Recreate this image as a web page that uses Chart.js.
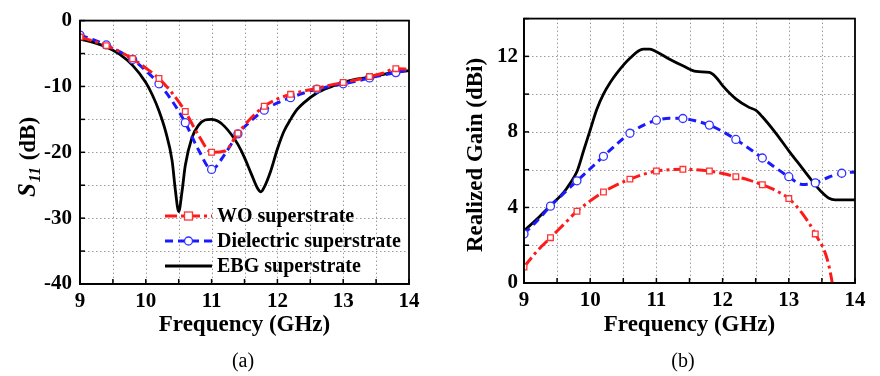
<!DOCTYPE html>
<html>
<head>
<meta charset="utf-8">
<script src="https://cdn.jsdelivr.net/npm/chart.js@4.4.1/dist/chart.umd.min.js"></script>
<style>
  body { margin: 0; background: #fff; }
  #wrap { position: relative; width: 880px; height: 376px; display: flex; }
  canvas { display: block; }
</style>
</head>
<body>
<div id="wrap">
  <canvas id="graficoS11" width="440" height="376"></canvas>
  <canvas id="graficoGanho" width="440" height="376"></canvas>
</div>
<script>
// frequencias (GHz) das curvas com marcadores
const freq = [9.0, 9.2, 9.4, 9.6, 9.8, 10.0, 10.2, 10.4, 10.6, 10.8, 11.0, 11.2, 11.4,
  11.6, 11.8, 12.0, 12.2, 12.4, 12.6, 12.8, 13.0, 13.2, 13.4, 13.6, 13.8, 14.0];

// (a) S11 em dB
const s11Wo = [-2.5, -3.1, -3.8, -4.7, -5.8, -7.2, -8.8, -11.0, -13.8, -17.4, -20.0, -19.8, -17.1,
  -14.8, -13.0, -11.9, -11.2, -10.7, -10.3, -9.8, -9.4, -9.0, -8.5, -8.0, -7.3, -7.4];
const s11Diel = [-2.2, -2.9, -3.7, -4.7, -5.9, -7.6, -9.6, -12.2, -15.5, -19.6, -22.6, -20.3, -17.2,
  -15.2, -13.6, -12.5, -11.7, -11.0, -10.4, -10.0, -9.6, -9.2, -8.7, -8.3, -7.9, -7.5];
const freqEbgS11 = [9.0, 9.2, 9.4, 9.6, 9.8, 10.0, 10.1, 10.2, 10.3, 10.4, 10.45, 10.5, 10.55, 10.6,
  10.7, 10.8, 10.9, 11.0, 11.1, 11.2, 11.3, 11.4, 11.5, 11.6, 11.7, 11.75, 11.8, 11.9, 12.0, 12.1,
  12.2, 12.3, 12.4, 12.6, 12.8, 13.0, 13.2, 13.4, 13.6, 13.8, 14.0];
const s11Ebg = [-2.8, -3.3, -4.0, -5.1, -6.8, -9.4, -11.3, -13.7, -16.8, -21.3, -25.8, -29.0, -26.0, -22.0,
  -17.8, -15.9, -15.1, -15.0, -15.3, -16.1, -17.3, -18.8, -20.8, -23.2, -25.5, -26.0, -25.3, -22.8, -19.5, -16.8,
  -15.0, -13.5, -12.5, -11.0, -10.1, -9.4, -8.9, -8.6, -8.2, -7.8, -7.6];

// (b) ganho realizado em dBi
const gainWo = [0.85, 1.7, 2.4, 3.1, 3.8, 4.35, 4.82, 5.2, 5.5, 5.75, 5.93, 6.0, 6.02,
  6.0, 5.93, 5.8, 5.63, 5.45, 5.2, 4.9, 4.47, 3.7, 2.6, 1.0, -3.2, null];
const gainDiel = [2.6, 3.3, 4.07, 4.75, 5.41, 6.05, 6.71, 7.35, 7.93, 8.35, 8.62, 8.72, 8.71,
  8.58, 8.36, 8.02, 7.6, 7.12, 6.62, 6.1, 5.63, 5.22, 5.3, 5.6, 5.81, 5.88];
const freqEbgGain = [9.0, 9.2, 9.4, 9.6, 9.7, 9.8, 9.9, 10.0, 10.1, 10.2, 10.3, 10.4, 10.6, 10.8, 10.9,
  11.0, 11.2, 11.4, 11.6, 11.8, 11.9, 12.0, 12.2, 12.4, 12.5, 12.6, 12.8, 13.0, 13.2, 13.4, 13.5,
  13.6, 13.7, 13.8, 14.0];
const gainEbg = [2.76, 3.4, 4.1, 4.8, 5.3, 5.9, 7.0, 8.1, 9.2, 10.0, 10.6, 11.1, 11.9, 12.38, 12.38,
  12.25, 11.85, 11.5, 11.2, 11.15, 10.9, 10.45, 9.75, 9.3, 9.15, 8.8, 7.95, 7.0, 6.1, 5.2, 4.8,
  4.5, 4.4, 4.4, 4.4];

const nomes = ["WO superstrate", "Dielectric superstrate", "EBG superstrate"];

Chart.defaults.font.family = '"Liberation Serif", "Times New Roman", serif';
Chart.defaults.color = "#000";

const fonte = (size) => ({ size: size, weight: "bold" });

function pares(xs, ys) {
  return xs.map((x, i) => ({ x: x, y: ys[i] }));
}

function marcador(ctx) {
  return ctx.dataIndex % 2 === 0 ? 4 : 0;
}

function geraDatasets(xs, wo, diel, xsEbg, ebg) {
  return [
    {
      label: nomes[0],
      data: pares(xs, wo),
      borderColor: "#ff1a1a",
      borderWidth: 3,
      borderDash: [12, 4, 3, 4],
      pointStyle: "rect",
      pointRadius: marcador,
      pointBackgroundColor: "#fff",
      pointBorderColor: "#ff3333",
      pointBorderWidth: 1.3,
      cubicInterpolationMode: "monotone",
    },
    {
      label: nomes[1],
      data: pares(xs, diel),
      borderColor: "#1a1aff",
      borderWidth: 3,
      borderDash: [8, 5],
      pointStyle: "circle",
      pointRadius: marcador,
      pointBackgroundColor: "#fff",
      pointBorderColor: "#3333ff",
      pointBorderWidth: 1.3,
      cubicInterpolationMode: "monotone",
    },
    {
      label: nomes[2],
      data: pares(xsEbg, ebg),
      borderColor: "#000",
      borderWidth: 2.8,
      pointRadius: 0,
      pointStyle: false,
      cubicInterpolationMode: "monotone",
    },
  ];
}

// grade pontilhada, desenhada a partir dos ticks das escalas
const grade = {
  id: "grade",
  beforeDatasetsDraw(chart) {
    const { ctx, chartArea: a, scales } = chart;
    ctx.save();
    ctx.strokeStyle = "#9a9a9a";
    ctx.lineWidth = 1;
    ctx.setLineDash([1.5, 2.5]);
    scales.x.ticks.forEach((t) => {
      if (t.value === scales.x.min || t.value === scales.x.max) return;
      const px = Math.round(scales.x.getPixelForValue(t.value)) + 0.5;
      ctx.beginPath();
      ctx.moveTo(px, a.top);
      ctx.lineTo(px, a.bottom);
      ctx.stroke();
    });
    scales.y.ticks.forEach((t) => {
      if (t.value === scales.y.min || t.value === scales.y.max) return;
      const py = Math.round(scales.y.getPixelForValue(t.value)) + 0.5;
      ctx.beginPath();
      ctx.moveTo(a.left, py);
      ctx.lineTo(a.right, py);
      ctx.stroke();
    });
    ctx.restore();
  },
};

// moldura, ticks internos, legenda, titulo do eixo y e rotulo (a)/(b)
const extras = {
  id: "extras",
  afterDatasetsDraw(chart, args, opts) {
    const { ctx, chartArea: a, scales } = chart;
    ctx.save();
    ctx.strokeStyle = "#000";
    ctx.lineWidth = 1.5;
    scales.x.ticks.forEach((t) => {
      const px = scales.x.getPixelForValue(t.value);
      ctx.beginPath();
      ctx.moveTo(px, a.bottom);
      ctx.lineTo(px, a.bottom - 5);
      ctx.stroke();
    });
    scales.y.ticks.forEach((t) => {
      const py = scales.y.getPixelForValue(t.value);
      ctx.beginPath();
      ctx.moveTo(a.left, py);
      ctx.lineTo(a.left + 5, py);
      ctx.stroke();
    });
    ctx.lineWidth = 1.8;
    ctx.strokeRect(a.left, a.top, a.width, a.height);

    // legenda
    chart.data.datasets.forEach((ds, i) => {
      const y = opts.legY + i * 25;
      const x0 = opts.legX;
      const x1 = x0 + 47;
      ctx.save();
      ctx.strokeStyle = ds.borderColor;
      ctx.lineWidth = ds.borderWidth;
      ctx.setLineDash(ds.borderDash || []);
      ctx.beginPath();
      ctx.moveTo(x0, y);
      ctx.lineTo(x1, y);
      ctx.stroke();
      ctx.setLineDash([]);
      const cx = (x0 + x1) / 2;
      ctx.lineWidth = 1.3;
      ctx.fillStyle = "#fff";
      ctx.strokeStyle = ds.pointBorderColor;
      if (ds.pointStyle === "rect") {
        ctx.fillRect(cx - 4, y - 4, 8, 8);
        ctx.strokeRect(cx - 4, y - 4, 8, 8);
      } else if (ds.pointStyle === "circle") {
        ctx.beginPath();
        ctx.arc(cx, y, 4, 0, Math.PI * 2);
        ctx.fill();
        ctx.stroke();
      }
      ctx.restore();
      ctx.fillStyle = "#000";
      ctx.font = 'bold 20px "Liberation Serif", serif';
      ctx.textAlign = "left";
      ctx.textBaseline = "middle";
      ctx.fillText(ds.label, x1 + 5, y + 1);
    });

    // rotulo (a) / (b)
    ctx.fillStyle = "#000";
    ctx.font = '20px "Liberation Serif", serif';
    ctx.textAlign = "center";
    ctx.textBaseline = "middle";
    ctx.fillText(opts.rotulo, opts.rotuloX, 362);

    // titulo do eixo y (partes com fontes diferentes)
    ctx.save();
    ctx.translate(opts.tituloX, opts.tituloY);
    ctx.rotate(-Math.PI / 2);
    ctx.textAlign = "left";
    ctx.textBaseline = "alphabetic";
    let total = 0;
    opts.titulo.forEach((p) => {
      ctx.font = p.font;
      total += ctx.measureText(p.text).width + (p.gap || 0);
    });
    let x = -total / 2;
    opts.titulo.forEach((p) => {
      ctx.font = p.font;
      ctx.fillText(p.text, x, 8 + (p.dy || 0));
      x += ctx.measureText(p.text).width + (p.gap || 0);
    });
    ctx.restore();
    ctx.restore();
  },
};

function geraOpcoes(cfg) {
  return {
    responsive: false,
    animation: false,
    events: [],
    layout: { padding: { left: 0, top: cfg.top, right: cfg.right, bottom: 0 } },
    plugins: {
      legend: { display: false },
      tooltip: { enabled: false },
      extras: cfg.extras,
    },
    scales: {
      x: {
        type: "linear",
        min: 9,
        max: 14,
        afterFit: (s) => { s.height = cfg.xHeight; },
        ticks: {
          stepSize: 0.5,
          autoSkip: false,
          maxRotation: 0,
          padding: 5,
          font: fonte(21),
          callback: (v) => (Number.isInteger(v) ? v : ""),
        },
        grid: { drawOnChartArea: false, drawTicks: false, tickLength: 0 },
        border: { color: "#000", width: 1.8 },
        title: {
          display: true,
          text: "Frequency (GHz)",
          font: fonte(23),
          padding: { top: 0, bottom: 37 },
        },
      },
      y: {
        min: cfg.yMin,
        max: cfg.yMax,
        afterFit: (s) => { s.width = cfg.yWidth; },
        ticks: {
          stepSize: cfg.yStep,
          autoSkip: false,
          padding: cfg.yPad,
          font: fonte(21),
          callback: (v) => (v % cfg.yLabelStep === 0 ? v : ""),
        },
        grid: { drawOnChartArea: false, drawTicks: false, tickLength: 0 },
        border: { color: "#000", width: 1.8 },
      },
    },
  };
}

const graficoS11 = new Chart(document.getElementById("graficoS11"), {
  type: "line",
  data: { datasets: geraDatasets(freq, s11Wo, s11Diel, freqEbgS11, s11Ebg) },
  options: geraOpcoes({
    top: 15, right: 31, xHeight: 92, yWidth: 80, yPad: 8,
    yMin: -40, yMax: 0, yStep: 5, yLabelStep: 10,
    extras: {
      legX: 165, legY: 216, rotulo: "(a)", rotuloX: 243, tituloX: 27, tituloY: 157,
      titulo: [
        { text: "S", font: 'italic bold 25px "Liberation Serif", serif', gap: 1 },
        { text: "11", font: 'italic bold 16px "Liberation Serif", serif', dy: 5, gap: 1 },
        { text: " (dB)", font: 'bold 23px "Liberation Serif", serif' },
      ],
    },
  }),
  plugins: [grade, extras],
});

const graficoGanho = new Chart(document.getElementById("graficoGanho"), {
  type: "line",
  data: { datasets: geraDatasets(freq, gainWo, gainDiel, freqEbgGain, gainEbg) },
  options: geraOpcoes({
    top: 14, right: 25, xHeight: 93, yWidth: 84, yPad: 6,
    yMin: 0, yMax: 14, yStep: 2, yLabelStep: 4,
    extras: {
      legX: 573, legY: 218, rotulo: "(b)", rotuloX: 243, tituloX: 34, tituloY: 155,
      titulo: [{ text: "Realized Gain (dBi)", font: 'bold 23px "Liberation Serif", serif' }],
    },
  }),
  plugins: [grade, extras],
});
</script>
</body>
</html>
